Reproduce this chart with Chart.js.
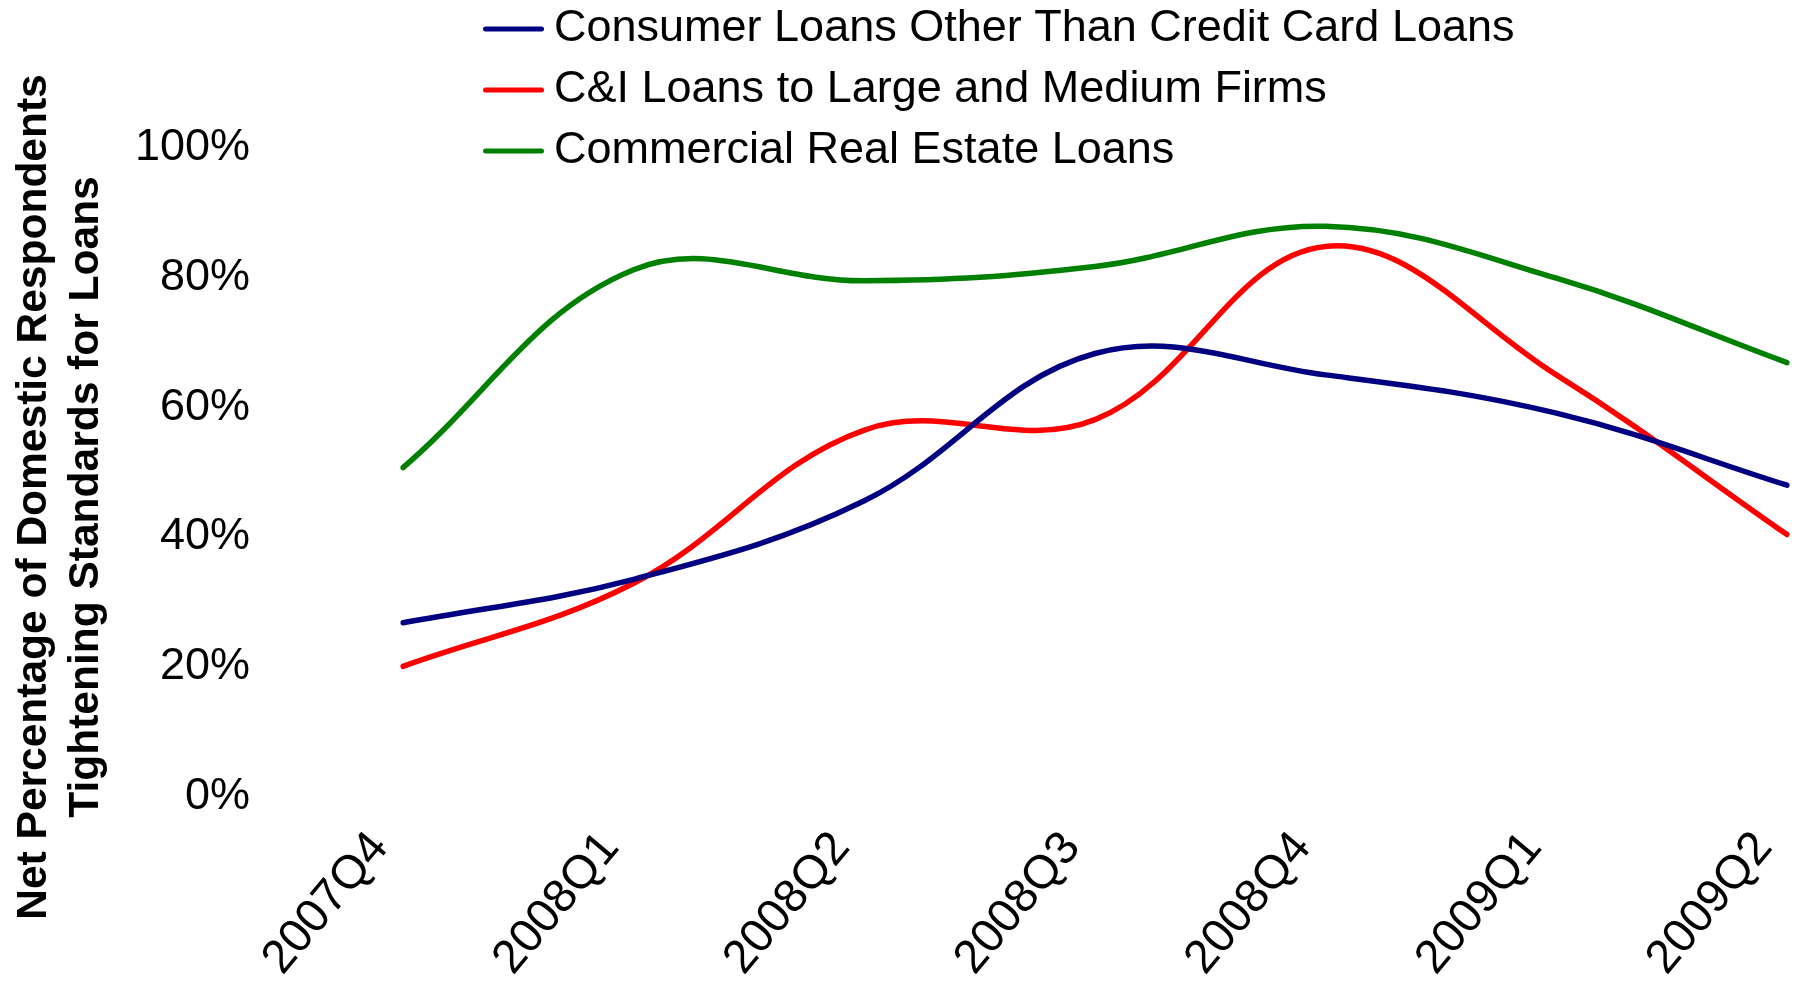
<!DOCTYPE html>
<html>
<head>
<meta charset="utf-8">
<title>Net Percentage of Domestic Respondents Tightening Standards for Loans</title>
<script src="https://cdn.jsdelivr.net/npm/chart.js@4/dist/chart.umd.min.js"></script>
<style>
  html, body { margin: 0; padding: 0; background: #ffffff; }
  #wrap { width: 1795px; height: 987px; }
</style>
</head>
<body>
<div id="wrap"><canvas id="chart" width="1795" height="987"></canvas></div>
<script>
// Survey quarters
const quarters = ['2007Q4', '2008Q1', '2008Q2', '2008Q3', '2008Q4', '2009Q1', '2009Q2'];

// Net percentage of respondents tightening standards, by loan type
const consumerLoans = [26.3, 33.0, 45.1, 67.8, 64.5, 58.6, 47.5];
const ciLoans       = [19.6, 32.4, 56.0, 57.6, 84.3, 64.5, 39.9];
const creLoans      = [50.2, 80.7, 79.0, 81.2, 87.4, 79.4, 66.4];

// Series names and colours
const seriesNames = [
  'Consumer Loans Other Than Credit Card Loans',
  'C&I Loans to Large and Medium Firms',
  'Commercial Real Estate Loans'
];
const seriesColors = ['#000080', '#FF0000', '#008000'];

// Y-axis ticks (percent)
const yTicks = [0, 20, 40, 60, 80, 100];

const FONT = "'Liberation Sans', Arial, Helvetica, sans-serif";

// Short line swatch used as the legend marker of each series
function lineSwatch(color) {
  const c = document.createElement('canvas');
  c.width = 61;
  c.height = 6;
  const g = c.getContext('2d');
  g.strokeStyle = color;
  g.lineWidth = 5;
  g.lineCap = 'round';
  g.beginPath();
  g.moveTo(2.5, 3);
  g.lineTo(58.5, 3);
  g.stroke();
  return c;
}

// Places the legend block above the plot, left-aligned with the series lines
const legendPlacement = {
  id: 'legendPlacement',
  afterLayout(chart) {
    const lg = chart.legend;
    if (!lg) return;
    const w = lg.width, h = lg.height;
    lg.left = 479.5;
    lg.top = -9.5;
    lg.right = lg.left + w;
    lg.bottom = lg.top + h;
  }
};

const series = [consumerLoans, ciLoans, creLoans];

const ctx = document.getElementById('chart').getContext('2d');
new Chart(ctx, {
  type: 'line',
  data: {
    labels: quarters,
    datasets: series.map((values, i) => ({
      label: seriesNames[i],
      data: values,
      borderColor: seriesColors[i],
      backgroundColor: seriesColors[i],
      pointStyle: lineSwatch(seriesColors[i])
    }))
  },
  options: {
    responsive: false,
    animation: false,
    devicePixelRatio: 1,
    layout: { padding: { top: 7, bottom: 0, left: 0, right: 8 } },
    elements: {
      point: { radius: 0, hoverRadius: 0 },
      line: { tension: 0.38, borderWidth: 5.5, borderCapStyle: 'round', borderJoinStyle: 'round', capBezierPoints: false, fill: false }
    },
    plugins: {
      tooltip: { enabled: false },
      legend: {
        position: 'chartArea',
        align: 'start',
        labels: {
          usePointStyle: true,
          pointStyleWidth: 36,
          padding: 16,
          color: '#000000',
          font: { family: FONT, size: 45 }
        }
      },
      title: {
        display: true,
        position: 'left',
        text: ['Net Percentage of Domestic Respondents', 'Tightening Standards for Loans'],
        color: '#000000',
        font: { family: FONT, size: 42.5, weight: 'bold', lineHeight: 52 / 42.5 },
        padding: { top: 8, bottom: 0 }
      }
    },
    scales: {
      x: {
        type: 'category',
        offset: false,
        grid: { display: false, drawTicks: false },
        border: { display: false },
        ticks: {
          autoSkip: false,
          minRotation: 50,
          maxRotation: 50,
          padding: 28,
          labelOffset: -23,
          color: '#000000',
          font: { family: FONT, size: 47 }
        },
        afterFit(scale) {
          scale.height = 193.5;
          scale.paddingLeft = 0;
          scale.paddingRight = 0;
        }
      },
      y: {
        min: yTicks[0],
        max: yTicks[yTicks.length - 1],
        grid: { display: false, drawTicks: false },
        border: { display: false },
        afterBuildTicks(scale) {
          scale.ticks = yTicks.map(v => ({ value: v }));
        },
        ticks: {
          padding: 153,
          labelOffset: 3,
          color: '#000000',
          font: { family: FONT, size: 45 },
          callback: v => v + '%'
        },
        afterFit(scale) {
          scale.width = 403 - 112;
          scale.paddingTop = 144.5;
          scale.paddingBottom = 0;
        }
      }
    }
  },
  plugins: [legendPlacement]
});
</script>
</body>
</html>
